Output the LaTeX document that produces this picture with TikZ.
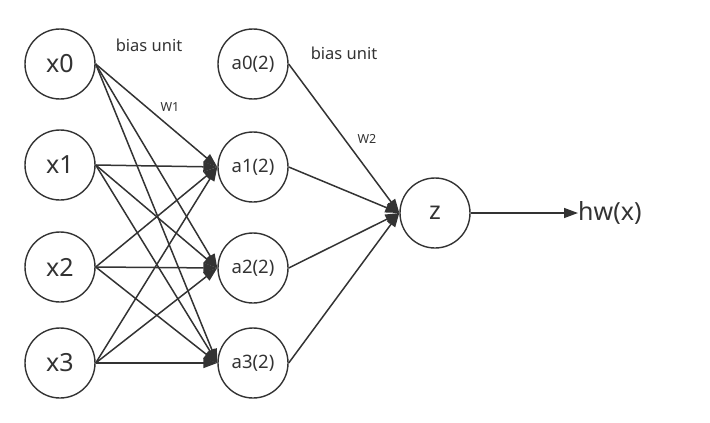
\documentclass[tikz,border=0pt]{standalone}
\usepackage{fontspec}
\setmainfont{Noto Sans}
\usetikzlibrary{arrows.meta}
\definecolor{ink}{HTML}{333333}
\tikzset{
  neuron/.style={circle, draw=ink, line width=1.4pt, minimum size=70pt, inner sep=0pt, text=ink},
  big/.style={font=\fontsize{25}{28}\selectfont},
  mid/.style={font=\fontsize{18.5}{21}\selectfont},
  lbl/.style={text=ink, font=\fontsize{16.5}{19}\selectfont},
  wlbl/.style={text=ink, font=\fontsize{12.5}{14}\selectfont},
  link/.style={draw=ink, line width=1.5pt, -{Triangle[length=14pt,width=10pt]}}
}
\begin{document}
\begin{tikzpicture}[x=1pt,y=-1pt]
\useasboundingbox (0,0) rectangle (710,423);
\node[neuron,big] (x0) at (60,64) {x0};
\node[neuron,big] (x1) at (60,165) {x1};
\node[neuron,big] (x2) at (60,267) {x2};
\node[neuron,big] (x3) at (60,363) {x3};
\node[neuron,mid] (a0) at (253,64) {a0(2)};
\node[neuron,mid] (a1) at (253,167) {a1(2)};
\node[neuron,mid] (a2) at (253,268) {a2(2)};
\node[neuron,mid] (a3) at (253,363) {a3(2)};
\node[neuron,big] (z) at (435,213) {z};
\node[text=ink,big,anchor=west,inner sep=0pt] (hw) at (578,213) {hw(x)};
\node[lbl] (b1) at (149,45) {bias unit};
\node[lbl] (b2) at (344,53) {bias unit};
\node[wlbl] (w1) at (170,107) {W1};
\node[wlbl] (w2) at (367,139) {W2};
\foreach \i in {0,1,2,3}{
  \foreach \j in {1,2,3}{
    \draw[link] (x\i.east) -- (a\j.west);
  }
}
\foreach \j in {0,1,2,3}{
  \draw[link] (a\j.east) -- (z.west);
}
\draw[link] (z.east) -- (hw.west);
\end{tikzpicture}
\end{document}
